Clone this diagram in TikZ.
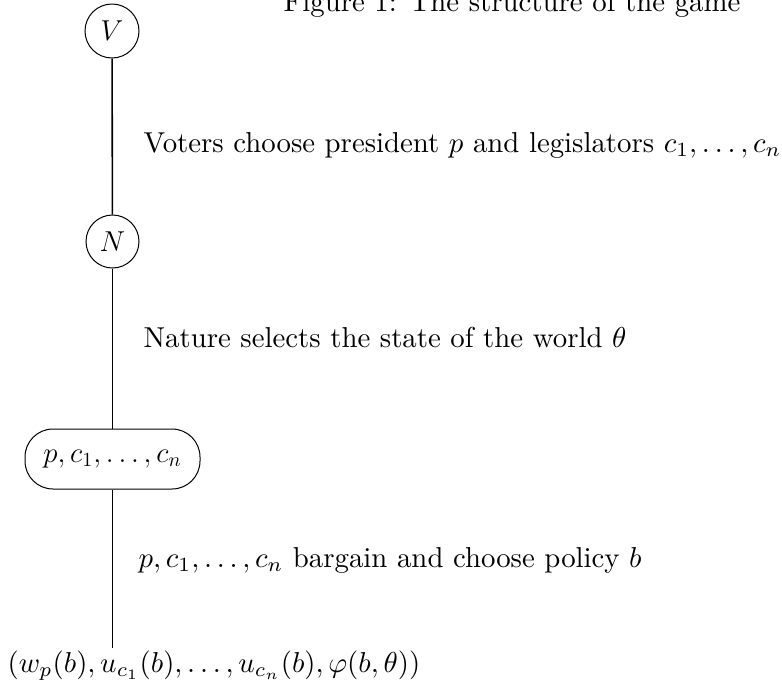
\documentclass[tikz,border=0pt]{standalone}
\begin{document}
\begin{tikzpicture}[x=0.5pt,y=-0.5pt,
  link/.style={line width=0.8pt},
  player/.style={circle,draw,line width=0.5pt,minimum size=26.5pt,inner sep=0pt,font=\Large},
  groupbox/.style={rectangle,draw,line width=0.5pt,rounded corners=14pt,minimum width=87.5pt,minimum height=30pt,inner sep=0pt,font=\Large},
  lab/.style={anchor=base west,inner sep=0pt,scale=1.44},
  captext/.style={anchor=base west,inner sep=0pt,scale=1.44}]
\useasboundingbox (0,0) rectangle (782,692);
\node[captext] (title) at (283,11) {Figure 1: The structure of the game};
\node[player,minimum size=27pt] (V) at (112,31) {$V$};
\node[player] (N) at (112.5,241.5) {$N$};
\node[groupbox] (B) at (112.5,459) {$p,c_1,\ldots,c_n$};
\coordinate (end) at (112.5,648);
\node[lab] (out) at (7,672) {$(w_p(b),u_{c_1}(b),\ldots,u_{c_n}(b),\varphi(b,\theta))$};
\draw[link] (V) -- (N);
\draw[link] (N) -- (B);
\draw[link] (B) -- (end);
\node[lab] (l1) at (143,152) {Voters choose president $p$ and legislators $c_1,\ldots,c_n$};
\node[lab] (l2) at (143,347) {Nature selects the state of the world $\theta$};
\node[lab] (l3) at (138,567) {$p,c_1,\ldots,c_n$ bargain and choose policy $b$};
\end{tikzpicture}
\end{document}
